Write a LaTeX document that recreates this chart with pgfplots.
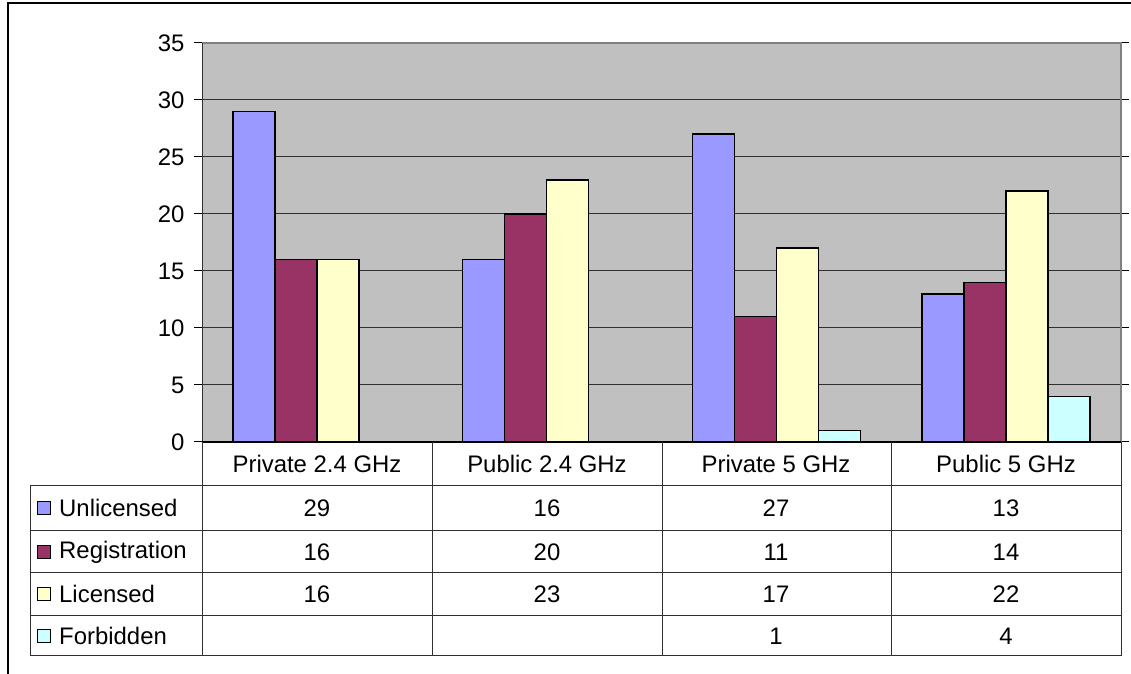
\documentclass[border=0pt]{standalone}
\usepackage{pgfplots}
\pgfplotsset{compat=1.18}
\usepackage{fontspec}
\setmainfont{Liberation Sans}
\definecolor{cUnl}{HTML}{9999FF}
\definecolor{cReg}{HTML}{993366}
\definecolor{cLic}{HTML}{FFFFCC}
\definecolor{cFor}{HTML}{CCFFFF}
\definecolor{plotbg}{HTML}{C0C0C0}
\definecolor{tline}{HTML}{303030}
\begin{document}
\begin{tikzpicture}[x=1bp,y=1bp]
\useasboundingbox (0,0) rectangle (1131,674);
\tikzset{tf/.style={font=\fontsize{24}{28}\selectfont}}
\begin{axis}[
  at={(202bp,232bp)}, anchor=south west,
  scale only axis, width=919bp, height=399bp,
  xmin=-0.5, xmax=3.5, ymin=0, ymax=35,
  ytick={0,5,...,35}, xtick=\empty,
  ybar=0pt, bar width=42bp,
  axis background/.style={fill=plotbg},
  ymajorgrids, grid style={draw=tline, line width=1bp},
  axis line style={draw=none},
  tick align=outside, major tick length=8bp,
  ytick style={draw=black, line width=1bp},
  yticklabel style={font=\fontsize{24}{28}\selectfont, xshift=-6bp},
  /pgf/number format/assume math mode=true,
  clip=false,
  every axis plot/.append style={draw=black, line width=1.5bp},
]
\addplot[fill=cUnl] coordinates {(0,29) (1,16) (2,27) (3,13)};
\addplot[fill=cReg] coordinates {(0,16) (1,20) (2,11) (3,14)};
\addplot[fill=cLic] coordinates {(0,16) (1,23) (2,17) (3,22)};
\addplot[fill=cFor] coordinates {(2,1) (3,4)};
\draw[draw=gray, line width=2bp] (rel axis cs:0,1) -- (rel axis cs:1,1) -- (rel axis cs:1,0);
\draw[draw=tline, line width=1bp] (rel axis cs:0,0) -- (rel axis cs:0,1);
\draw[draw=black, line width=1.5bp] (rel axis cs:0,0) -- (rel axis cs:1,0);
\end{axis}
% data table
\foreach \yy in {188,143,101,58,18} {\draw[tline, line width=1bp] (30,\yy) -- (1121,\yy);}
\foreach \xx in {202,432,662,891,1121} {\draw[tline, line width=1bp] (\xx,232) -- (\xx,18);}
\draw[tline, line width=1bp] (30,188) -- (30,18);
\node[tf] at (317,210) {Private 2.4 GHz};
\node[tf] at (547,210) {Public 2.4 GHz};
\node[tf] at (776,210) {Private 5 GHz};
\node[tf] at (1006,210) {Public 5 GHz};
% legend keys and labels
\draw[fill=cUnl, line width=1bp] (37,159.5) rectangle (50,172.5);
\draw[fill=cReg, line width=1bp] (37,115.5) rectangle (50,128.5);
\draw[fill=cLic, line width=1bp] (37,73.5) rectangle (50,86.5);
\draw[fill=cFor, line width=1bp] (37,31.5) rectangle (50,44.5);
\node[tf, anchor=west, inner sep=0pt] at (59,166) {Unlicensed};
\node[tf, anchor=west, inner sep=0pt] at (59,122) {Registration};
\node[tf, anchor=west, inner sep=0pt] at (59,80) {Licensed};
\node[tf, anchor=west, inner sep=0pt] at (59,38) {Forbidden};
% values
\node[tf] at (317,166) {29}; \node[tf] at (547,166) {16}; \node[tf] at (776,166) {27}; \node[tf] at (1006,166) {13};
\node[tf] at (317,122) {16}; \node[tf] at (547,122) {20}; \node[tf] at (776,122) {11}; \node[tf] at (1006,122) {14};
\node[tf] at (317,80) {16}; \node[tf] at (547,80) {23}; \node[tf] at (776,80) {17}; \node[tf] at (1006,80) {22};
\node[tf] at (776,38) {1}; \node[tf] at (1006,38) {4};
% outer frame
\draw[line width=2bp] (8,0) -- (8,671) -- (1131,671);
\end{tikzpicture}
\end{document}
